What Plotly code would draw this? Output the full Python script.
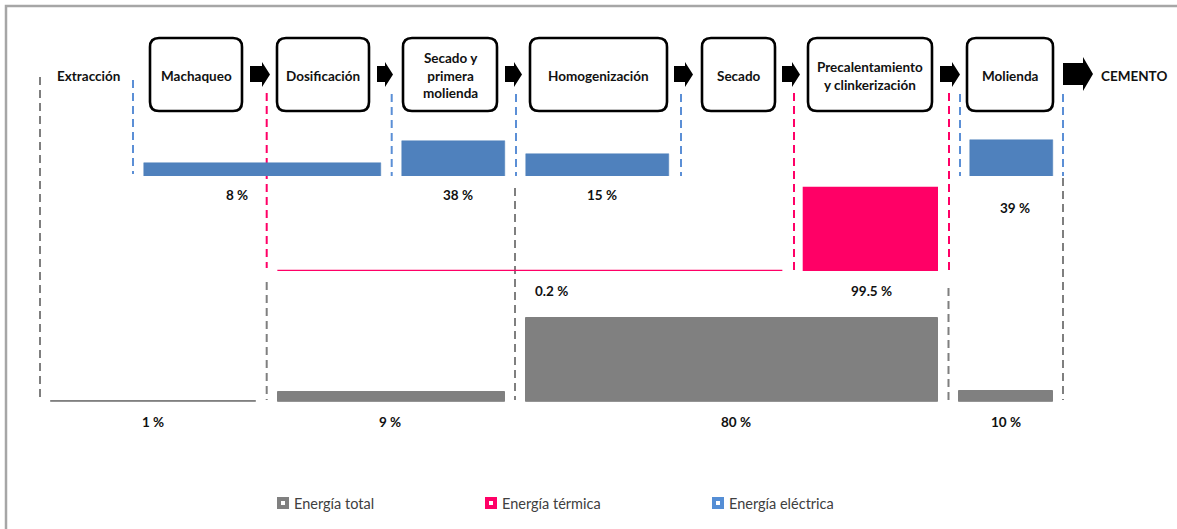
import math
import plotly.graph_objects as go

# ---------------- data ----------------
procesos = ["Machaqueo", "Dosificación", "Secado y<br>primera<br>molienda", "Homogenización",
            "Secado", "Precalentamiento<br>y clinkerización", "Molienda"]
inicio = "Extracción"
fin = "CEMENTO"

serie_total = "Energía total"
serie_termica = "Energía térmica"
serie_electrica = "Energía eléctrica"

electrica_vals = [8, 38, 15, 39]
termica_vals = [0.2, 99.5]
total_vals = [1, 9, 80, 10]

# ---------------- layout constants (pixels) ----------------
W, H = 1177, 529
C_TOTAL = "#808080"
C_TERM = "#ff0066"
C_ELEC = "#4f81bd"
C_ELEC_LEG = "#558ed5"
C_ELEC_DASH = "#5b8fd6"
FONT = "Lato"

box_pos = [(150, 242), (277, 369), (403, 497), (530, 667), (702, 775), (808, 932), (967, 1053)]
box_y = (38, 111)
arrow_pos = [(250, 270), (377, 393), (505, 522), (674, 693), (782, 800), (940, 960)]
big_arrow = (1063, 1093)

elec_x = [(144, 381), (401.7, 505), (526, 669), (970, 1052.7)]
term_x = [(277.5, 783), (804, 938)]
total_x = [(50.5, 256.4), (277.5, 505), (525.6, 938), (959, 1052.6)]

elec_lab = [(237, 195), (458, 195), (601.7, 195), (1015, 208)]
term_lab = [(551, 291), (871.6, 291)]
total_lab = [(153, 421.7), (390, 421.7), (736, 421.7), (1006, 421.7)]

gray_dash = [(40, 77, 400), (266.7, 282, 400), (515, 188, 400), (948.5, 288, 400), (1063, 178, 400)]
blue_dash = [(133, 80, 174), (391.7, 94, 176), (516, 94, 176), (681, 94, 176), (960, 94, 176), (1063, 94, 176)]
pink_dash = [(266.7, 93, 268), (794, 93, 270), (949, 93, 272)]


def frac(py):
    return (H - py) / H


fig = go.Figure()
# anchor trace for main pixel axes
fig.add_trace(go.Scatter(x=[0, W], y=[0, H], mode="markers", marker=dict(opacity=0),
                         hoverinfo="skip", showlegend=False, xaxis="x", yaxis="y"))


def fmt(v):
    return (f"{v:g}") + " %"


def add_bars(xs, vals, color, yaxis, lw):
    fig.add_trace(go.Bar(
        x=[(a + b) / 2 for a, b in xs], y=vals, width=[b - a for a, b in xs],
        marker=dict(color=color, line=dict(color=color, width=lw)),
        xaxis="x", yaxis=yaxis, showlegend=False, hoverinfo="skip"))


add_bars(elec_x, electrica_vals, C_ELEC, "y2", 0.5)
add_bars(term_x, termica_vals, C_TERM, "y3", 1.3)
add_bars(total_x, total_vals, C_TOTAL, "y4", 1.0)

shapes = []
annotations = []

# frame
shapes.append(dict(type="rect", xref="x", yref="y", x0=6, y0=6, x1=W + 20, y1=H + 20,
                   line=dict(color="#a6a6a6", width=2.5), layer="below"))

# dashed lines
for lst, col in ((gray_dash, "#7f7f7f"), (blue_dash, C_ELEC_DASH), (pink_dash, C_TERM)):
    for x, y0, y1 in lst:
        shapes.append(dict(type="line", xref="x", yref="y", x0=x, x1=x, y0=y0, y1=y1,
                           line=dict(color=col, width=2, dash="8px,5px"), layer="below"))


def rbox(x0, y0, x1, y1, r=9):
    return (f"M{x0+r},{y0} L{x1-r},{y0} Q{x1},{y0} {x1},{y0+r} L{x1},{y1-r} Q{x1},{y1} {x1-r},{y1} "
            f"L{x0+r},{y1} Q{x0},{y1} {x0},{y1-r} L{x0},{y0+r} Q{x0},{y0} {x0+r},{y0} Z")


for (x0, x1), name in zip(box_pos, procesos):
    shapes.append(dict(type="path", xref="x", yref="y", path=rbox(x0, box_y[0], x1, box_y[1]),
                       line=dict(color="black", width=2.6), fillcolor="white"))
    annotations.append(dict(x=(x0 + x1) / 2, y=(box_y[0] + box_y[1]) / 2 + 1, xref="x", yref="y",
                            text=name, showarrow=False,
                            font=dict(family=FONT, size=13.5, color="#111111", weight="bold")))


def arrow(x0, x1, bt, bb, ht, hb, hl):
    xm = x1 - hl
    yc = (ht + hb) / 2
    return f"M{x0},{bt} L{xm},{bt} L{xm},{ht} L{x1},{yc} L{xm},{hb} L{xm},{bb} L{x0},{bb} Z"


for x0, x1 in arrow_pos:
    shapes.append(dict(type="path", xref="x", yref="y", path=arrow(x0, x1, 66, 82, 62, 87, 8),
                       line=dict(width=0), fillcolor="black"))
shapes.append(dict(type="path", xref="x", yref="y",
                   path=arrow(big_arrow[0], big_arrow[1], 63, 85, 57, 91, 10),
                   line=dict(width=0), fillcolor="black"))

annotations.append(dict(x=88, y=76, xref="x", yref="y", text=inicio, showarrow=False,
                        font=dict(family=FONT, size=13.5, color="#111111", weight="bold")))
annotations.append(dict(x=1134, y=76, xref="x", yref="y", text=fin, showarrow=False,
                        font=dict(family=FONT, size=13.5, color="#111111", weight="bold")))

for vals, labs in ((electrica_vals, elec_lab), (termica_vals, term_lab), (total_vals, total_lab)):
    for v, (x, y) in zip(vals, labs):
        annotations.append(dict(x=x, y=y, xref="x", yref="y", text=fmt(v), showarrow=False,
                                font=dict(family=FONT, size=13.5, color="#111111", weight="bold")))

# legend
leg = [(277, C_TOTAL, serie_total), (485, C_TERM, serie_termica), (712, C_ELEC_LEG, serie_electrica)]
for x, col, name in leg:
    shapes.append(dict(type="rect", xref="x", yref="y", x0=x, x1=x + 12, y0=497, y1=509,
                       line=dict(width=0), fillcolor=col))
    shapes.append(dict(type="rect", xref="x", yref="y", x0=x + 4, x1=x + 8, y0=501, y1=505,
                       line=dict(width=0), fillcolor="white"))
    annotations.append(dict(x=x + 15, y=503, xref="x", yref="y", text=name, showarrow=False,
                            xanchor="left", font=dict(family=FONT, size=14.5, color="#404040")))

k_elec = 33.32
log_floor = 3.3
fig.update_layout(
    width=W, height=H, margin=dict(l=0, r=0, t=0, b=0),
    paper_bgcolor="white", plot_bgcolor="rgba(0,0,0,0)",
    xaxis=dict(range=[0, W], visible=False, domain=[0, 1]),
    yaxis=dict(range=[H, 0], visible=False, domain=[0, 1]),
    yaxis2=dict(type="log", domain=[frac(176), frac(100)], anchor="x", visible=False,
                range=[math.log10(log_floor), math.log10(log_floor) + 76 / k_elec]),
    yaxis3=dict(domain=[frac(271), frac(180)], anchor="x", visible=False, range=[0, 91 / 0.831]),
    yaxis4=dict(domain=[frac(401.7), frac(300)], anchor="x", visible=False, range=[0, 101.7 / 1.046]),
    shapes=shapes, annotations=annotations, showlegend=False, bargap=0,
)

fig.write_html("out.html")
